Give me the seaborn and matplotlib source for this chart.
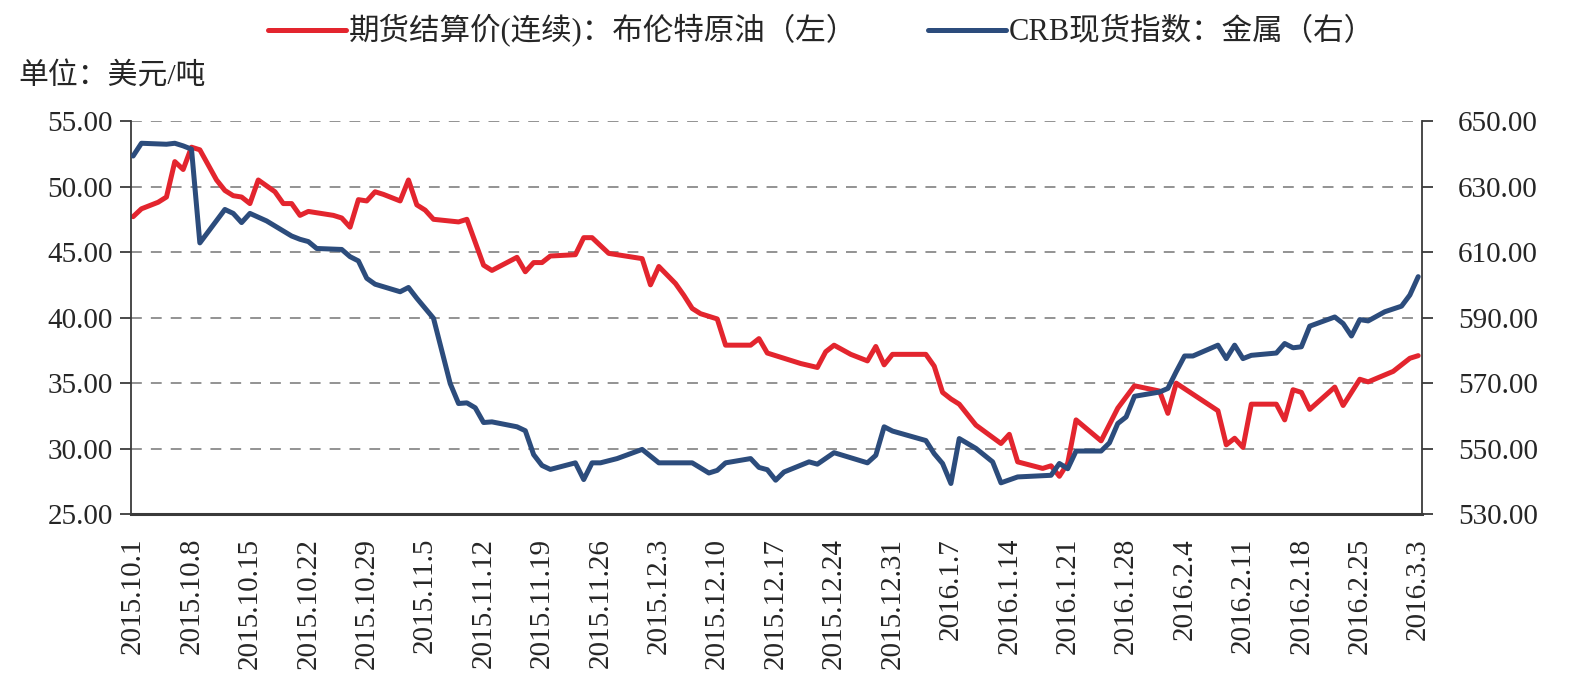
import pandas as pd
import matplotlib
matplotlib.use("Agg")
import matplotlib.pyplot as plt
from matplotlib.ticker import FormatStrFormatter, FixedLocator
import seaborn as sns

# Brent settlement (left axis, USD)
brent_dates = [
    "2015-10-01", "2015-10-02", "2015-10-04", "2015-10-05", "2015-10-06", "2015-10-07",
    "2015-10-08", "2015-10-09", "2015-10-11", "2015-10-12", "2015-10-13", "2015-10-14",
    "2015-10-15", "2015-10-16", "2015-10-18", "2015-10-19", "2015-10-20", "2015-10-21",
    "2015-10-22", "2015-10-23", "2015-10-25", "2015-10-26", "2015-10-27", "2015-10-28",
    "2015-10-29", "2015-10-30", "2015-10-31", "2015-11-02", "2015-11-03", "2015-11-04",
    "2015-11-05", "2015-11-06", "2015-11-09", "2015-11-10", "2015-11-12", "2015-11-13",
    "2015-11-16", "2015-11-17", "2015-11-18", "2015-11-19", "2015-11-20", "2015-11-23",
    "2015-11-24", "2015-11-25", "2015-11-27", "2015-12-01", "2015-12-02", "2015-12-03",
    "2015-12-05", "2015-12-06", "2015-12-07", "2015-12-08", "2015-12-10", "2015-12-11",
    "2015-12-14", "2015-12-15", "2015-12-16", "2015-12-18", "2015-12-20", "2015-12-22",
    "2015-12-23", "2015-12-24", "2015-12-26", "2015-12-28", "2015-12-29", "2015-12-30",
    "2015-12-31", "2016-01-04", "2016-01-05", "2016-01-06", "2016-01-07", "2016-01-08",
    "2016-01-10", "2016-01-13", "2016-01-14", "2016-01-15", "2016-01-18", "2016-01-19",
    "2016-01-20", "2016-01-21", "2016-01-22", "2016-01-25", "2016-01-27", "2016-01-29",
    "2016-02-01", "2016-02-02", "2016-02-03", "2016-02-08", "2016-02-09", "2016-02-10",
    "2016-02-11", "2016-02-12", "2016-02-15", "2016-02-16", "2016-02-17", "2016-02-18",
    "2016-02-19", "2016-02-22", "2016-02-23", "2016-02-25", "2016-02-26", "2016-02-29",
    "2016-03-02", "2016-03-03",
]
brent_values = [
    47.7, 48.3, 48.8, 49.2, 51.9, 51.3,
    53.0, 52.8, 50.5, 49.7, 49.3, 49.2,
    48.7, 50.5, 49.6, 48.7, 48.7, 47.8,
    48.1, 48.0, 47.8, 47.6, 46.9, 49.0,
    48.9, 49.6, 49.4, 48.9, 50.5, 48.6,
    48.2, 47.5, 47.3, 47.5, 44.0, 43.6,
    44.6, 43.5, 44.2, 44.2, 44.7, 44.8,
    46.1, 46.1, 44.9, 44.5, 42.5, 43.9,
    42.6, 41.7, 40.7, 40.3, 39.9, 37.9,
    37.9, 38.4, 37.3, 36.9, 36.5, 36.2,
    37.4, 37.9, 37.2, 36.7, 37.8, 36.4,
    37.2, 37.2, 36.3, 34.3, 33.8, 33.4,
    31.8, 30.4, 31.1, 29.0, 28.5, 28.7,
    27.9, 28.9, 32.2, 30.6, 33.1, 34.8,
    34.4, 32.7, 35.0, 32.9, 30.3, 30.8,
    30.1, 33.4, 33.4, 32.2, 34.5, 34.3,
    33.0, 34.7, 33.3, 35.3, 35.1, 35.9,
    36.9, 37.1,
]

# CRB spot index: metals (right axis)
metal_dates = [
    "2015-10-01", "2015-10-02", "2015-10-05", "2015-10-06", "2015-10-07", "2015-10-08",
    "2015-10-09", "2015-10-12", "2015-10-13", "2015-10-14", "2015-10-15", "2015-10-17",
    "2015-10-20", "2015-10-21", "2015-10-22", "2015-10-23", "2015-10-26", "2015-10-27",
    "2015-10-28", "2015-10-29", "2015-10-30", "2015-11-02", "2015-11-03", "2015-11-04",
    "2015-11-06", "2015-11-08", "2015-11-09", "2015-11-10", "2015-11-11", "2015-11-12",
    "2015-11-13", "2015-11-16", "2015-11-17", "2015-11-18", "2015-11-19", "2015-11-20",
    "2015-11-23", "2015-11-24", "2015-11-25", "2015-11-26", "2015-11-28", "2015-12-01",
    "2015-12-03", "2015-12-07", "2015-12-09", "2015-12-10", "2015-12-11", "2015-12-14",
    "2015-12-15", "2015-12-16", "2015-12-17", "2015-12-18", "2015-12-21", "2015-12-22",
    "2015-12-24", "2015-12-28", "2015-12-29", "2015-12-30", "2015-12-31", "2016-01-04",
    "2016-01-05", "2016-01-06", "2016-01-07", "2016-01-08", "2016-01-10", "2016-01-12",
    "2016-01-13", "2016-01-15", "2016-01-19", "2016-01-20", "2016-01-21", "2016-01-22",
    "2016-01-25", "2016-01-26", "2016-01-27", "2016-01-28", "2016-01-29", "2016-02-01",
    "2016-02-02", "2016-02-03", "2016-02-04", "2016-02-05", "2016-02-08", "2016-02-09",
    "2016-02-10", "2016-02-11", "2016-02-12", "2016-02-15", "2016-02-16", "2016-02-17",
    "2016-02-18", "2016-02-19", "2016-02-22", "2016-02-23", "2016-02-24", "2016-02-25",
    "2016-02-26", "2016-02-28", "2016-03-01", "2016-03-02", "2016-03-03",
]
metal_values = [
    639.3, 643.2, 642.9, 643.2, 642.4, 641.4,
    612.8, 623.0, 621.8, 619.0, 621.8, 619.5,
    614.9, 613.9, 613.2, 611.1, 610.8, 608.6,
    607.3, 602.0, 600.2, 597.9, 599.2, 595.9,
    589.8, 569.9, 563.8, 564.0, 562.5, 558.0,
    558.2, 556.7, 555.5, 548.2, 544.9, 543.7,
    545.7, 540.6, 545.7, 545.7, 547.0, 549.8,
    545.7, 545.7, 542.6, 543.4, 545.7, 547.0,
    544.3, 543.6, 540.4, 542.9, 546.0, 545.3,
    548.8, 545.7, 548.0, 556.7, 555.4, 552.5,
    548.5, 545.5, 539.4, 553.1, 550.1, 546.0,
    539.6, 541.4, 541.9, 545.5, 543.9, 549.3,
    549.3, 551.8, 557.7, 559.7, 566.0, 567.3,
    568.4, 573.5, 578.3, 578.3, 581.6, 577.5,
    581.6, 577.5, 578.5, 579.2, 582.1, 580.8,
    581.1, 587.4, 590.2, 588.2, 584.4, 589.4,
    589.0, 591.8, 593.5, 596.9, 602.5,
]

tick_labels = [
    "2015.10.1", "2015.10.8", "2015.10.15", "2015.10.22", "2015.10.29", "2015.11.5",
    "2015.11.12", "2015.11.19", "2015.11.26", "2015.12.3", "2015.12.10", "2015.12.17",
    "2015.12.24", "2015.12.31", "2016.1.7", "2016.1.14", "2016.1.21", "2016.1.28",
    "2016.2.4", "2016.2.11", "2016.2.18", "2016.2.25", "2016.3.3",
]

brent_label = "期货结算价(连续)：布伦特原油（左）"
metal_label = "CRB现货指数：金属（右）"
red = "#E3252E"
navy = "#2C4C7C"

brent = pd.DataFrame({"date": pd.to_datetime(brent_dates), "value": brent_values})
metal = pd.DataFrame({"date": pd.to_datetime(metal_dates), "value": metal_values})
tick_pos = pd.to_datetime(tick_labels, format="%Y.%m.%d")

sns.set_style("white")
plt.rcParams["font.family"] = ["Liberation Serif", "Noto Sans CJK SC"]
plt.rcParams["axes.unicode_minus"] = False

fig = plt.figure(figsize=(15.86, 6.85), dpi=100)
ax = fig.add_axes([0.0826, 0.2492, 0.8138, 0.5742])
ax2 = ax.twinx()

sns.lineplot(data=brent, x="date", y="value", ax=ax, color=red, linewidth=3.6,
             label=brent_label, legend=False)
sns.lineplot(data=metal, x="date", y="value", ax=ax2, color=navy, linewidth=3.6,
             label=metal_label, legend=False)

ax.set_xlim(pd.Timestamp("2015-10-01") - pd.Timedelta(hours=6),
            pd.Timestamp("2016-03-03") + pd.Timedelta(hours=10))
ax.set_ylim(25, 55)
ax2.set_ylim(530, 650)
ax.yaxis.set_major_locator(FixedLocator([25, 30, 35, 40, 45, 50, 55]))
ax2.yaxis.set_major_locator(FixedLocator([530, 550, 570, 590, 610, 630, 650]))
ax.yaxis.set_major_formatter(FormatStrFormatter("%.2f"))
ax2.yaxis.set_major_formatter(FormatStrFormatter("%.2f"))

ax.set_xticks(tick_pos)
ax.set_xticklabels(tick_labels, rotation=90)
ax.set_xlabel("")
ax.set_ylabel("")
ax2.set_ylabel("")

ax.yaxis.grid(True, linestyle=(0, (6, 5)), color="#8a8a8a", linewidth=1.3)
ax.xaxis.grid(False)
ax.set_axisbelow(True)

edge = "#3a3a3a"
for a in (ax, ax2):
    a.spines["top"].set_visible(False)
ax.spines["right"].set_visible(False)
ax2.spines["left"].set_visible(False)
ax2.spines["bottom"].set_visible(False)
ax.spines["left"].set_color(edge)
ax.spines["left"].set_linewidth(1.3)
ax.spines["bottom"].set_color(edge)
ax.spines["bottom"].set_linewidth(2.2)
ax2.spines["right"].set_color(edge)
ax2.spines["right"].set_linewidth(1.3)

ax.tick_params(axis="y", direction="out", length=8, width=1.3, color=edge,
               pad=5, labelsize=21, left=True)
ax2.tick_params(axis="y", direction="out", length=8, width=1.3, color=edge,
                pad=18, labelsize=21, right=True)
ax.tick_params(axis="x", length=0, pad=17, labelsize=21)

h1, l1 = ax.get_legend_handles_labels()
h2, l2 = ax2.get_legend_handles_labels()
fig.legend(h1 + h2, l1 + l2, loc="center", bbox_to_anchor=(0.518, 0.955), ncol=2,
           frameon=False, fontsize=22, handlelength=2.55, handletextpad=0.1,
           columnspacing=2.3)

fig.text(18 / 1586, 1 - 76 / 685, "单位：美元/吨", ha="left", va="center", fontsize=21.5)

fig.savefig("out.png", dpi=100)
